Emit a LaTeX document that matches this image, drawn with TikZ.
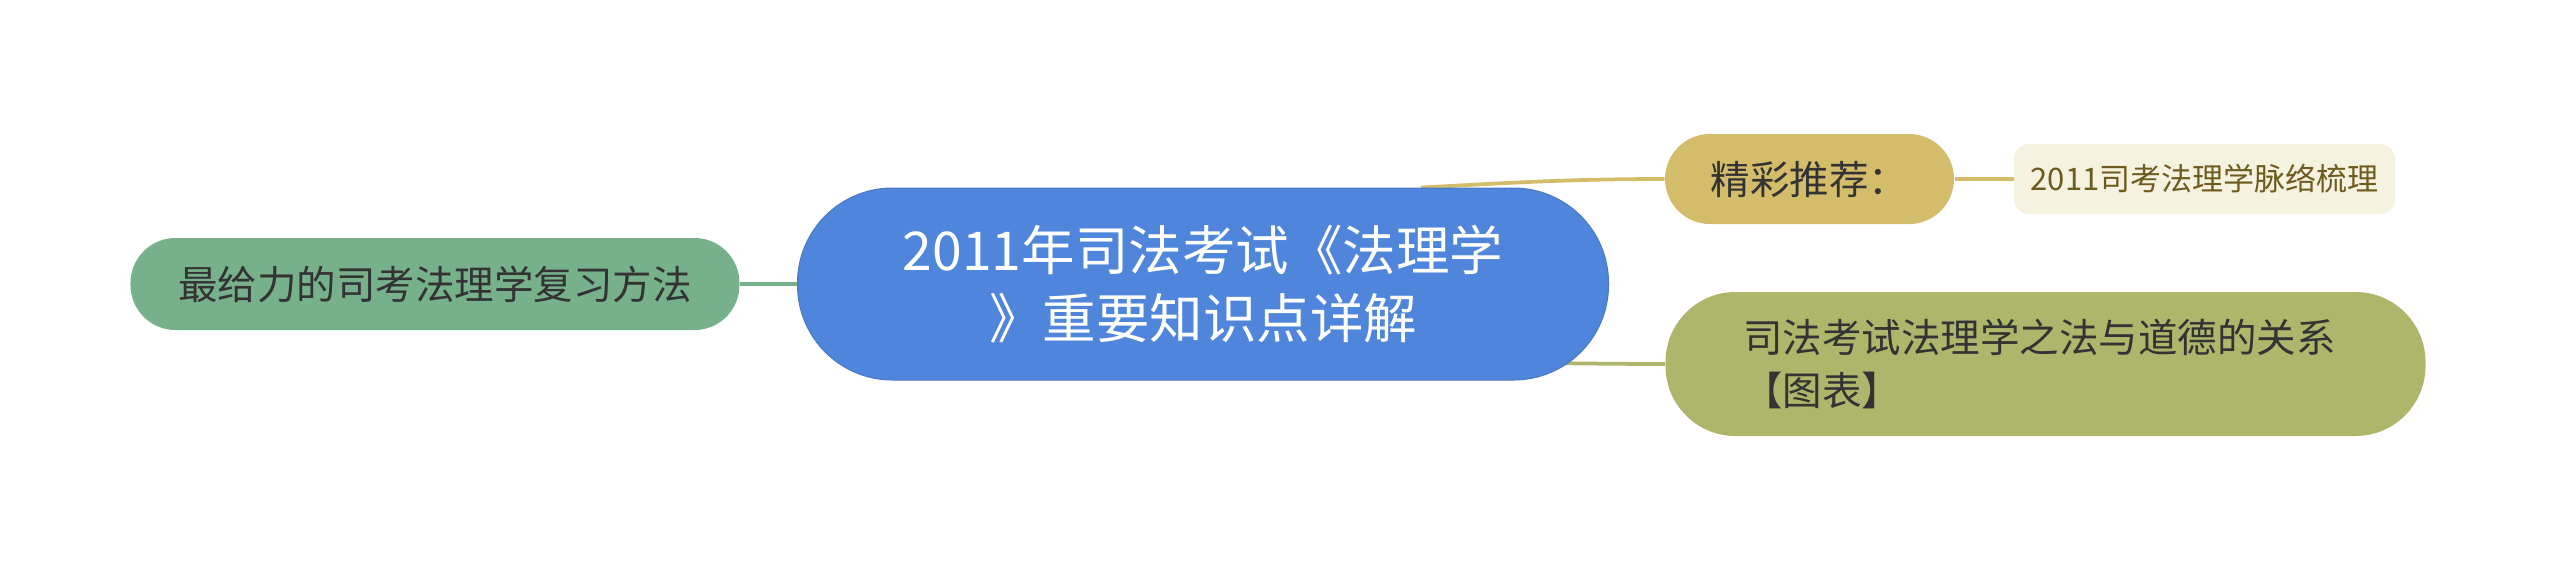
\documentclass[tikz,border=0pt]{standalone}
\usepackage{fontspec}
\setmainfont{Noto Sans CJK SC}
\usepackage{tikz}
\usetikzlibrary{positioning, backgrounds}
\definecolor{ctrblue}{HTML}{4F86DB}
\definecolor{leafgreen}{HTML}{77B18B}
\definecolor{tipgold}{HTML}{D4BD6A}
\definecolor{brancholive}{HTML}{ADB66B}
\definecolor{tipcream}{HTML}{F6F2E0}
\definecolor{tipbrown}{HTML}{6E5B1E}
\definecolor{darktext}{HTML}{333333}
\tikzset{
x=0.4pt, y=-0.4pt, % one unit is one pixel of the reference
topic/.style={fill=ctrblue, draw=ctrblue!90!black, text=white, align=center, rounded corners=38pt, minimum width=324.4pt, minimum height=76.8pt, font=\fontsize{21.4pt}{27.4pt}\selectfont}, % the central topic
branch/.style={text=darktext, rounded corners=18pt, minimum height=36.8pt, font=\fontsize{15.8pt}{20.9pt}\selectfont}, % the main branches
tipbox/.style={fill=tipcream, text=tipbrown, rounded corners=6pt, minimum width=152.4pt, minimum height=28pt, font=\fontsize{12.4pt}{15pt}\selectfont}, % the small leaf box
link/.style={line width=1.5pt}, % connectors between the boxes
}

\begin{document}
\begin{tikzpicture}
        \useasboundingbox (0,0) rectangle (2560,569);

        \node[topic] (ctr) at (1203,284) {2011年司法考试《法理学\\》重要知识点详解};
        \node[branch, fill=leafgreen, minimum width=243.6pt, left=22.8pt of ctr] (method) {最给力的司考法理学复习方法};
        \node[branch, fill=tipgold, minimum width=115.6pt, minimum height=36pt] (tuijian) at (1809.5,179) {精彩推荐：};
        \node[tipbox, right=23.6pt of tuijian] (mailuo) {2011司考法理学脉络梳理};
        \node[branch, fill=brancholive, rounded corners=28pt, minimum height=57.6pt, text width=242pt, inner xsep=31pt, align=left] (daode) at (2045.5,364) {司法考试法理学之法与道德的关系\\【图表】};

        \begin{pgfonlayer}{background}
        \draw[link, leafgreen] (method.east) -- (ctr.west);
        \draw[link, tipgold] ([xshift=87.2pt]ctr.north) to[out=3, in=180] (tuijian.west);
        \draw[link, tipgold] (tuijian.east) -- (mailuo.west);
        \draw[link, brancholive] ([xshift=-40pt,yshift=-31.6pt]ctr.east) to[out=0, in=180] (daode.west);
        \end{pgfonlayer}
    \end{tikzpicture}
\end{document}
